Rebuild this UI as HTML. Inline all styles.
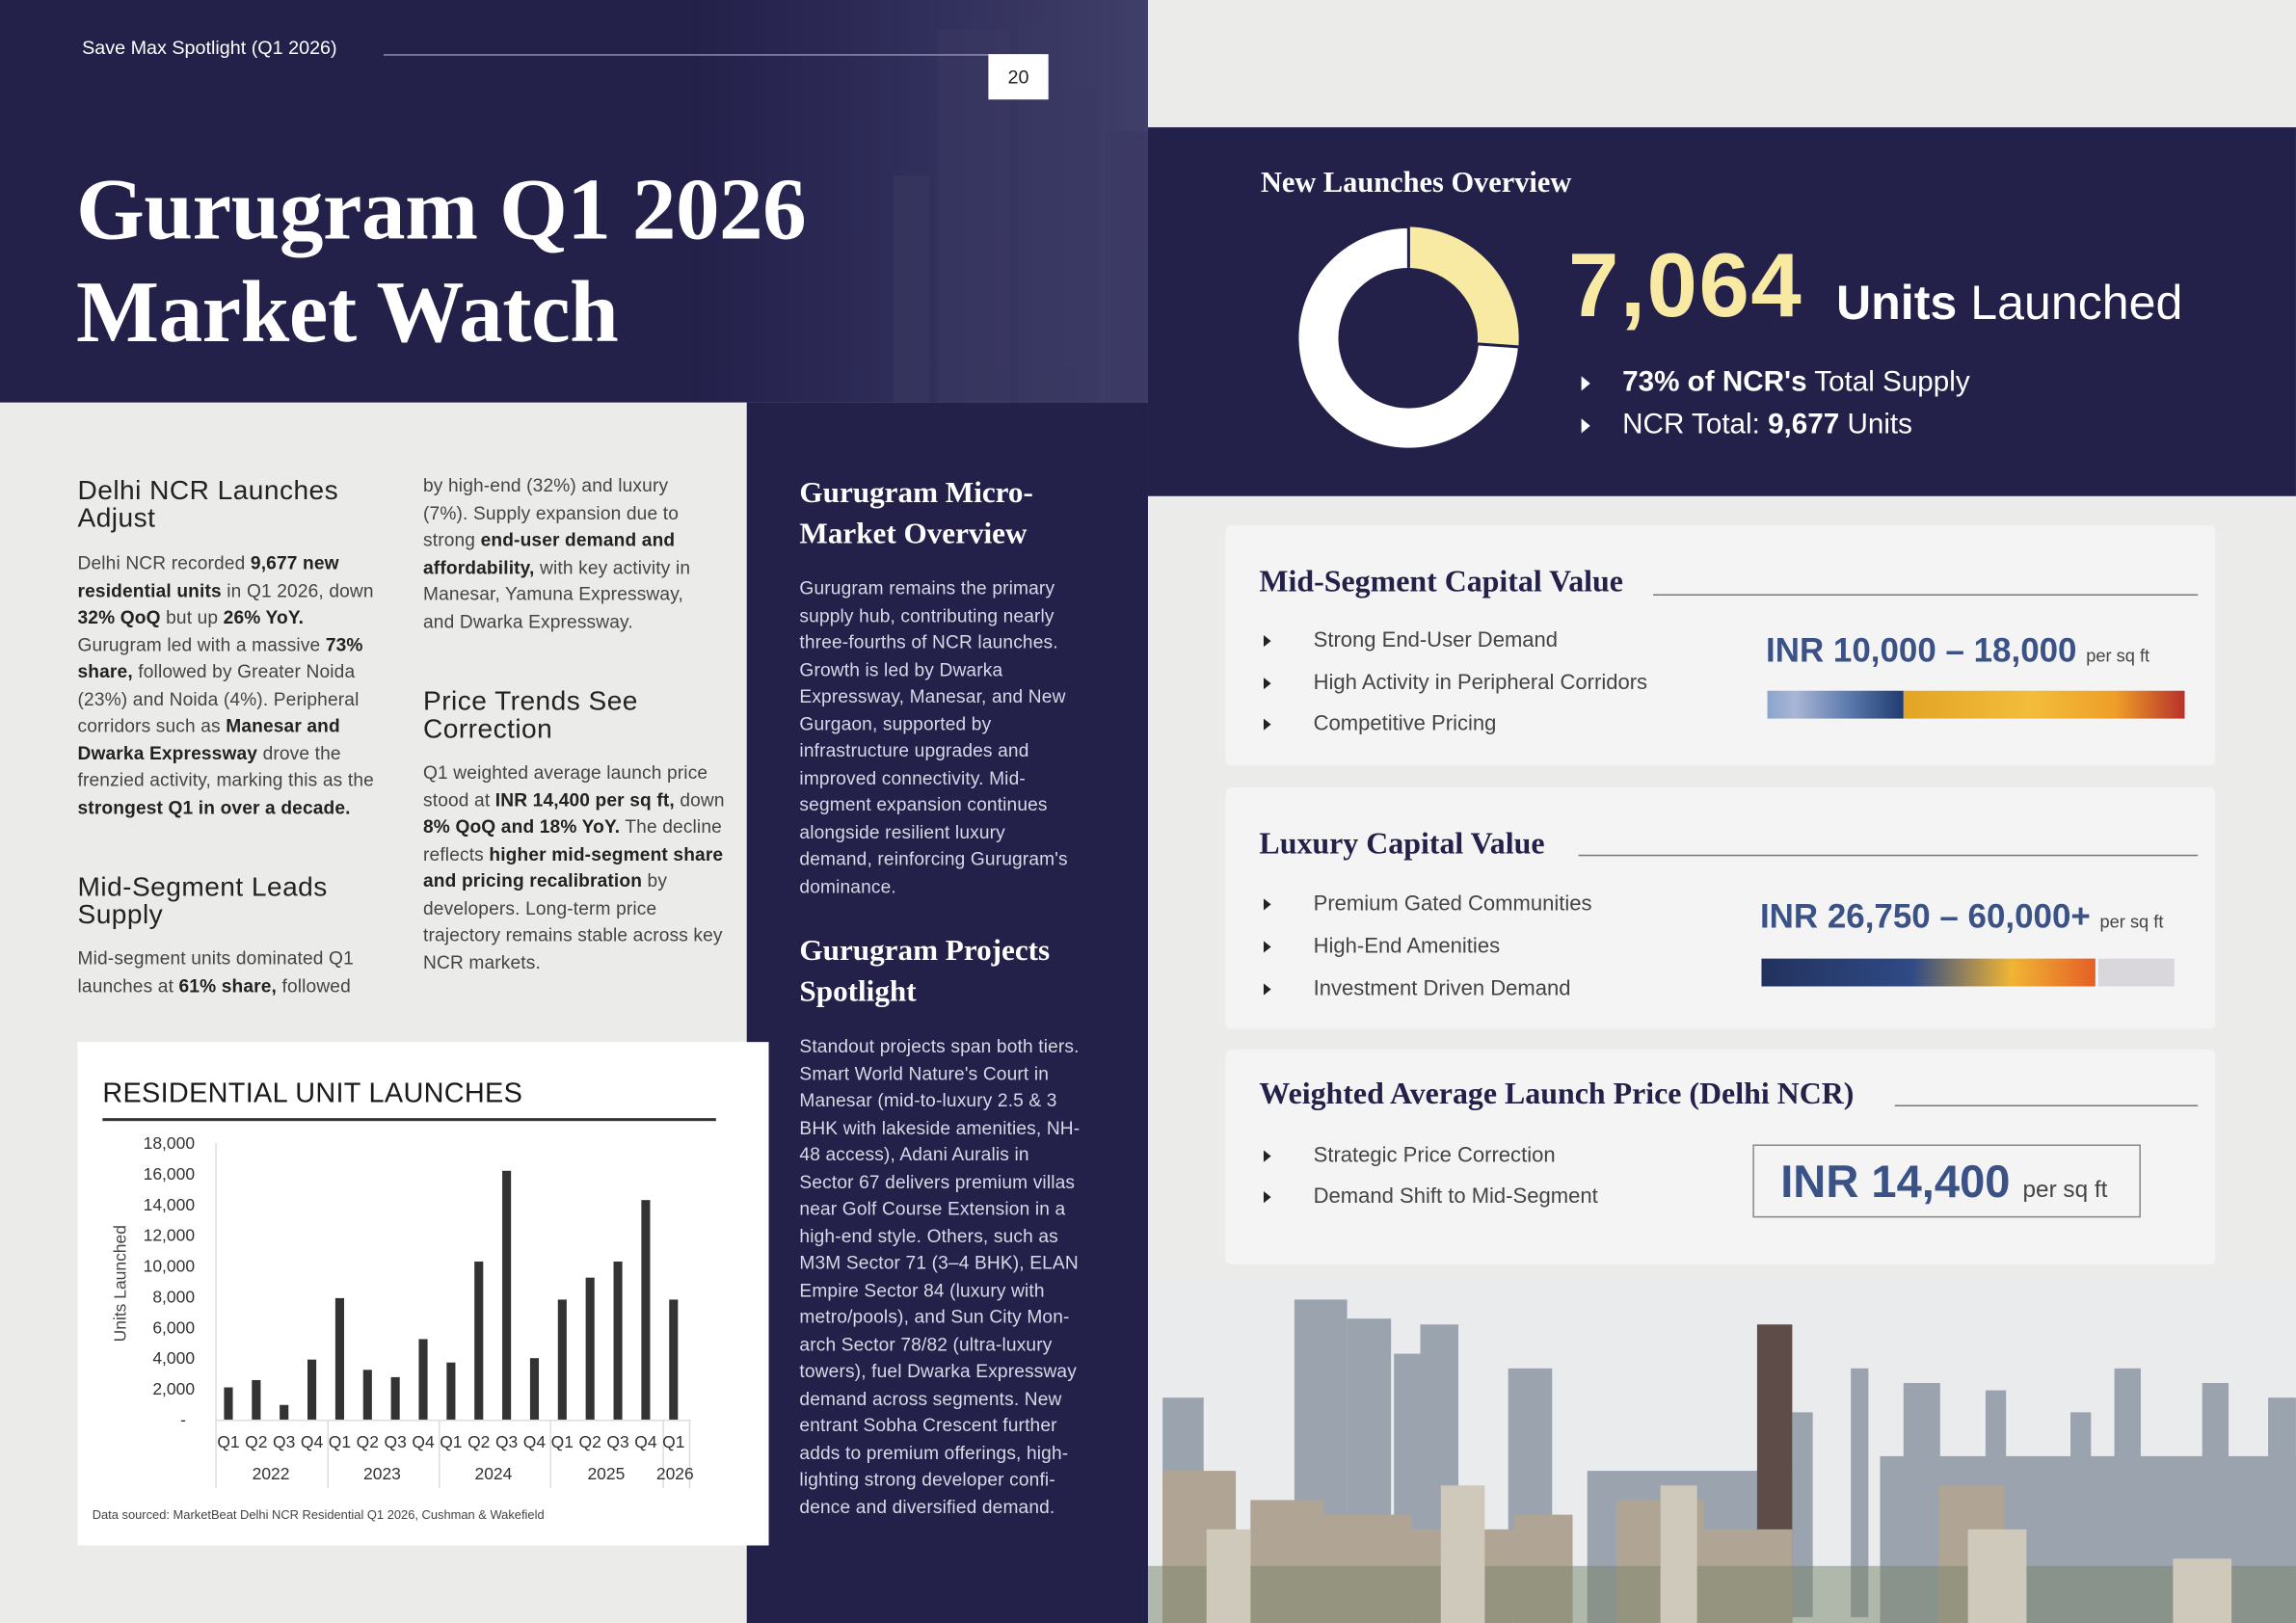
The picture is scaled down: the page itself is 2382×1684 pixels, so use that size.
<!DOCTYPE html>
<html><head><meta charset="utf-8">
<style>
*{margin:0;padding:0;box-sizing:border-box}
html,body{width:2382px;height:1684px;overflow:hidden;background:#ebebea}
#w{position:absolute;left:0;top:0;width:1568px;height:1109px;transform:scale(1.5191,1.5185);transform-origin:0 0;font-family:"Liberation Sans",sans-serif;color:#3a3a3a}
.a{position:absolute}
.serif{font-family:"Liberation Serif",serif;font-weight:bold}
.body{font-size:12.6px;line-height:18.5px;color:#444;letter-spacing:.1px}
.body b{color:#222}
h3{font-weight:normal;font-size:18.5px;line-height:19px;color:#222;position:absolute;letter-spacing:.3px}
.mid{color:#d8d8e6;font-size:12.6px;line-height:18.5px;letter-spacing:.1px}
.card{position:absolute;left:837px;width:676px;background:#f4f4f4;border-radius:4px}
.ct{position:absolute;left:23px;font-family:"Liberation Serif",serif;font-weight:bold;font-size:21px;color:#23214a}
.ln{position:absolute;height:1px;background:#777}
.li{position:absolute;left:26px;font-size:14.5px;color:#444}
.li:before{content:"";position:absolute;left:0;top:4px;border-left:5px solid #222;border-top:4px solid transparent;border-bottom:4px solid transparent}
.li span{margin-left:34px}
.pr{position:absolute;color:#3b5287;font-weight:bold}
</style></head><body><div id="w">
<!-- top left header -->
<div class="a" style="left:0;top:0;width:784px;height:275px;background:linear-gradient(90deg,#23204a 0%,#23204a 60%,#302e5a 80%,#403f69 100%)"></div>
<svg class="a" style="left:600px;top:0" width="184" height="275"><g fill="#3a3962" opacity=".6"><rect x="40" y="20" width="50" height="255"/><rect x="95" y="15" width="25" height="260"/><rect x="125" y="60" width="25" height="215"/><rect x="10" y="120" width="25" height="155"/><rect x="155" y="90" width="29" height="185"/></g></svg>
<div class="a" style="left:56px;top:25px;font-size:13px;color:#fff">Save Max Spotlight (Q1 2026)</div>
<div class="a" style="left:262px;top:37px;width:450px;height:1px;background:#8d8bb0"></div>
<div class="a" style="left:675px;top:37px;width:41px;height:31px;background:#fff;font-size:13px;color:#222;text-align:center;line-height:31px">20</div>
<div class="a serif" style="left:52px;top:108px;font-size:60px;line-height:70px;color:#fff;letter-spacing:-.3px">Gurugram Q1 2026<br>Market Watch</div>

<!-- middle navy column -->
<div class="a" style="left:510px;top:275px;width:274px;height:834px;background:#23204a"></div>

<!-- left text -->
<h3 style="left:53px;top:325px">Delhi NCR Launches<br>Adjust</h3>
<div class="a body" style="left:53px;top:376px;width:205px">Delhi NCR recorded <b>9,677 new residential units</b> in Q1 2026, down <b>32% QoQ</b> but up <b>26% YoY.</b> Gurugram led with a massive <b>73% share,</b> followed by Greater Noida (23%) and Noida (4%). Peripheral corridors such as <b>Manesar and Dwarka Expressway</b> drove the frenzied activity, marking this as the <b>strongest Q1 in over a decade.</b></div>
<h3 style="left:53px;top:596px">Mid-Segment Leads<br>Supply</h3>
<div class="a body" style="left:53px;top:646px;width:205px">Mid-segment units dominated Q1 launches at <b>61% share,</b> followed</div>
<div class="a body" style="left:289px;top:323px;width:200px">by high-end (32%) and luxury (7%). Supply expansion due to strong <b>end-user demand and affordability,</b> with key activity in Manesar, Yamuna Expressway, and Dwarka Expressway.</div>
<h3 style="left:289px;top:469px">Price Trends See<br>Correction</h3>
<div class="a body" style="left:289px;top:519px;width:208px">Q1 weighted average launch price stood at <b>INR 14,400 per sq ft,</b> down <b>8% QoQ and 18% YoY.</b> The decline reflects <b>higher mid-segment share and pricing recalibration</b> by developers. Long-term price trajectory remains stable across key NCR markets.</div>

<!-- mid column text -->
<div class="a serif" style="left:546px;top:323px;font-size:20.5px;line-height:28px;color:#fff">Gurugram Micro-<br>Market Overview</div>
<div class="a mid" style="left:546px;top:393px;width:188px">Gurugram remains the primary supply hub, contributing nearly three-fourths of NCR launches. Growth is led by Dwarka Expressway, Manesar, and New Gurgaon, supported by infrastructure upgrades and improved connectivity. Mid-segment expansion continues alongside resilient luxury demand, reinforcing Gurugram's dominance.</div>
<div class="a serif" style="left:546px;top:636px;font-size:20.5px;line-height:28px;color:#fff">Gurugram Projects<br>Spotlight</div>
<div class="a mid" style="left:546px;top:706px;width:194px">Standout projects span both tiers. Smart World Nature's Court in Manesar (mid-to-luxury 2.5 &amp; 3 BHK with lakeside amenities, NH-48 access), Adani Auralis in Sector 67 delivers premium villas near Golf Course Extension in a high-end style. Others, such as M3M Sector 71 (3–4 BHK), ELAN Empire Sector 84 (luxury with metro/pools), and Sun City Mon-arch Sector 78/82 (ultra-luxury towers), fuel Dwarka Expressway demand across segments. New entrant Sobha Crescent further adds to premium offerings, high-lighting strong developer confi-dence and diversified demand.</div>

<!-- chart -->
<div class="a" style="left:53px;top:712px;width:472px;height:344px;background:#fff"></div>
<div class="a" style="left:70px;top:737px;font-size:19px;color:#1a1a1a;letter-spacing:.2px">RESIDENTIAL UNIT LAUNCHES</div>
<div class="a" style="left:70px;top:764px;width:419px;height:2px;background:#333"></div>
<svg class="a" style="left:53px;top:712px" width="472" height="344" font-family="Liberation Sans, sans-serif">
<g font-size="11.5" fill="#333" text-anchor="end">
<text x="80" y="73">18,000</text><text x="80" y="94">16,000</text><text x="80" y="115">14,000</text><text x="80" y="136">12,000</text><text x="80" y="157">10,000</text><text x="80" y="178">8,000</text><text x="80" y="199">6,000</text><text x="80" y="220">4,000</text><text x="80" y="241">2,000</text><text x="74" y="262">-</text>
</g>
<text transform="translate(33,165) rotate(-90)" font-size="11.5" fill="#444" text-anchor="middle">Units Launched</text>
<line x1="94.5" y1="69" x2="94.5" y2="258" stroke="#ddd"/>
<line x1="94" y1="258.5" x2="418" y2="258.5" stroke="#ddd"/>
<g stroke="#ddd"><line x1="94.5" y1="258" x2="94.5" y2="305"/><line x1="171" y1="258" x2="171" y2="305"/><line x1="247" y1="258" x2="247" y2="305"/><line x1="323" y1="258" x2="323" y2="305"/><line x1="400" y1="258" x2="400" y2="305"/><line x1="418" y1="258" x2="418" y2="305"/></g>
<g fill="#333">
<rect x="100" y="236" width="6" height="22"/><rect x="119" y="231" width="6" height="27"/><rect x="138" y="248" width="6" height="10"/><rect x="157" y="217" width="6" height="41"/>
<rect x="176" y="175" width="6" height="83"/><rect x="195" y="224" width="6" height="34"/><rect x="214" y="229" width="6" height="29"/><rect x="233" y="203" width="6" height="55"/>
<rect x="252" y="219" width="6" height="39"/><rect x="271" y="150" width="6" height="108"/><rect x="290" y="88" width="6" height="170"/><rect x="309" y="216" width="6" height="42"/>
<rect x="328" y="176" width="6" height="82"/><rect x="347" y="161" width="6" height="97"/><rect x="366" y="150" width="6" height="108"/><rect x="385" y="108" width="6" height="150"/>
<rect x="404" y="176" width="6" height="82"/>
</g>
<g font-size="11.5" fill="#333" text-anchor="middle">
<text x="103" y="277">Q1</text><text x="122" y="277">Q2</text><text x="141" y="277">Q3</text><text x="160" y="277">Q4</text>
<text x="179" y="277">Q1</text><text x="198" y="277">Q2</text><text x="217" y="277">Q3</text><text x="236" y="277">Q4</text>
<text x="255" y="277">Q1</text><text x="274" y="277">Q2</text><text x="293" y="277">Q3</text><text x="312" y="277">Q4</text>
<text x="331" y="277">Q1</text><text x="350" y="277">Q2</text><text x="369" y="277">Q3</text><text x="388" y="277">Q4</text>
<text x="407" y="277">Q1</text>
<text x="132" y="299">2022</text><text x="208" y="299">2023</text><text x="284" y="299">2024</text><text x="361" y="299">2025</text><text x="408" y="299">2026</text>
</g>
<text x="10" y="326" font-size="8.5" fill="#444">Data sourced: MarketBeat Delhi NCR Residential Q1 2026, Cushman &amp; Wakefield</text>
</svg>

<!-- right top band -->
<div class="a" style="left:784px;top:87px;width:784px;height:252px;background:#23204a"></div>
<div class="a serif" style="left:861px;top:114px;font-size:20px;color:#fff">New Launches Overview</div>
<svg class="a" style="left:884px;top:153px" width="156" height="156">
<circle cx="78" cy="78" r="61.5" fill="none" stroke="#fff" stroke-width="27"/>
<path d="M78 2 A76 76 0 0 1 153 84 L125 82 A48 48 0 0 0 78 30 Z" fill="#f8e9a3"/>
<line x1="78" y1="2" x2="78" y2="30" stroke="#23204a" stroke-width="2"/>
<line x1="153" y1="84" x2="125" y2="82" stroke="#23204a" stroke-width="2"/>
</svg>
<div class="a" style="left:1071px;top:160px;font-size:62px;font-weight:bold;color:#f8e9a3;letter-spacing:1px">7,064</div>
<div class="a" style="left:1254px;top:188px;font-size:33px;color:#fff"><b>Units</b> Launched</div>
<div class="a" style="left:1080px;top:247px;font-size:19.5px;color:#fff;line-height:29px">
<div><span style="display:inline-block;border-left:6px solid #fff;border-top:5px solid transparent;border-bottom:5px solid transparent;margin-right:22px"></span><b>73% of NCR's</b> Total Supply</div>
<div><span style="display:inline-block;border-left:6px solid #fff;border-top:5px solid transparent;border-bottom:5px solid transparent;margin-right:22px"></span>NCR Total: <b>9,677</b> Units</div>
</div>

<!-- card 1 -->
<div class="card" style="top:359px;height:164px">
<div class="ct" style="top:26px">Mid-Segment Capital Value</div>
<div class="ln" style="left:292px;top:47px;width:372px"></div>
<div class="li" style="top:71px"><span>Strong End-User Demand</span></div>
<div class="li" style="top:100px"><span>High Activity in Peripheral Corridors</span></div>
<div class="li" style="top:128px"><span>Competitive Pricing</span></div>
<div class="pr" style="left:369px;top:72px;font-size:23px">INR 10,000 – 18,000 <span style="font-size:12px;font-weight:normal;color:#444">per sq ft</span></div>
<div class="a" style="left:370px;top:113px;width:93px;height:19px;background:linear-gradient(90deg,#8aa4cc,#a9b6d6 20%,#5c79ad 60%,#1f3b70)"></div>
<div class="a" style="left:463px;top:113px;width:192px;height:19px;background:linear-gradient(90deg,#e3a425,#f2bd3a 45%,#ee9f28 75%,#b8312a)"></div>
</div>
<!-- card 2 -->
<div class="card" style="top:538px;height:165px">
<div class="ct" style="top:26px">Luxury Capital Value</div>
<div class="ln" style="left:241px;top:46px;width:423px"></div>
<div class="li" style="top:72px"><span>Premium Gated Communities</span></div>
<div class="li" style="top:101px"><span>High-End Amenities</span></div>
<div class="li" style="top:130px"><span>Investment Driven Demand</span></div>
<div class="pr" style="left:365px;top:75px;font-size:23px">INR 26,750 – 60,000+ <span style="font-size:12px;font-weight:normal;color:#444">per sq ft</span></div>
<div class="a" style="left:366px;top:117px;width:228px;height:19px;background:linear-gradient(90deg,#22325e,#2f4a86 45%,#f0b534 75%,#e55f25)"></div>
<div class="a" style="left:596px;top:117px;width:52px;height:19px;background:#d9d7dc"></div>
</div>
<!-- card 3 -->
<div class="card" style="top:717px;height:147px">
<div class="ct" style="top:18px">Weighted Average Launch Price (Delhi NCR)</div>
<div class="ln" style="left:457px;top:38px;width:207px"></div>
<div class="li" style="top:65px"><span>Strategic Price Correction</span></div>
<div class="li" style="top:93px"><span>Demand Shift to Mid-Segment</span></div>
<div class="a" style="left:360px;top:65px;width:265px;height:50px;border:1px solid #888"></div>
<div class="pr" style="left:379px;top:73px;font-size:31px">INR 14,400 <span style="font-size:16px;font-weight:normal;color:#444">per sq ft</span></div>
</div>

<!-- skyline -->
<svg class="a" style="left:784px;top:875px" width="784" height="234">
<rect width="784" height="234" fill="#e9ebec"/>
<g fill="#9aa3ae">
<rect x="100" y="13" width="36" height="220"/><rect x="136" y="26" width="30" height="200"/><rect x="186" y="30" width="26" height="200"/><rect x="168" y="50" width="20" height="180"/><rect x="10" y="80" width="28" height="154"/>
<rect x="246" y="60" width="30" height="170"/><rect x="440" y="90" width="14" height="140"/><rect x="480" y="60" width="12" height="170"/><rect x="516" y="70" width="25" height="160"/><rect x="572" y="75" width="14" height="150"/><rect x="630" y="90" width="14" height="140"/><rect x="660" y="60" width="18" height="170"/><rect x="720" y="70" width="18" height="160"/><rect x="765" y="80" width="19" height="150"/>
<rect x="300" y="130" width="140" height="104"/><rect x="500" y="120" width="100" height="114"/><rect x="600" y="120" width="184" height="114"/>
</g>
<rect x="416" y="30" width="24" height="204" fill="#5d4c48"/>
<g fill="#b0a594">
<rect x="10" y="130" width="50" height="104"/><rect x="70" y="150" width="50" height="84"/><rect x="120" y="160" width="60" height="74"/><rect x="180" y="170" width="70" height="64"/><rect x="250" y="160" width="40" height="74"/><rect x="320" y="150" width="60" height="84"/><rect x="380" y="170" width="60" height="64"/><rect x="540" y="140" width="45" height="94"/>
</g>
<g fill="#78846a"><rect x="0" y="195" width="784" height="39" opacity=".5"/></g>
<g fill="#cfc9bb"><rect x="40" y="170" width="30" height="64"/><rect x="200" y="140" width="30" height="94"/><rect x="350" y="140" width="25" height="94"/><rect x="560" y="170" width="40" height="64"/><rect x="700" y="190" width="40" height="44"/></g>
</svg>
</div></body></html>
